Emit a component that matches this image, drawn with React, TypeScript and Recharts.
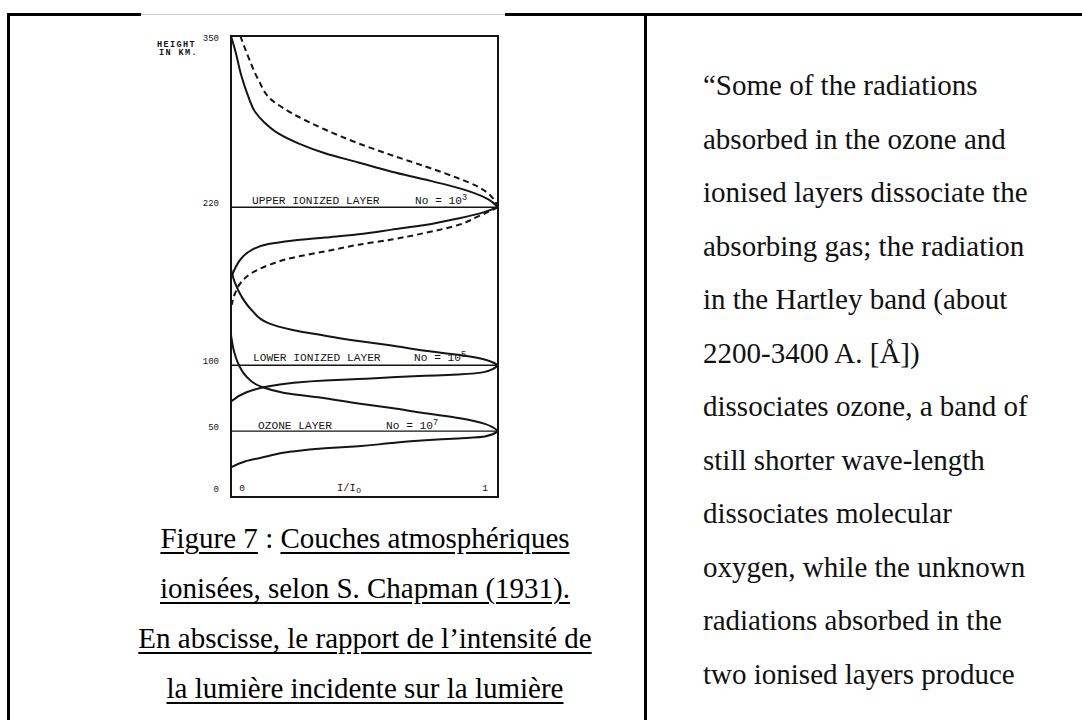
import { LineChart, Line, XAxis, YAxis, ReferenceLine, ReferenceArea } from 'recharts'

type Pt = { h: number; r: number }

// h = height in km, r = I/I0
const upperSolidAbove: Pt[] = [
  { h: 350, r: 0 }, { h: 339.5, r: 0.015 }, { h: 319, r: 0.04 }, { h: 304, r: 0.065 },
  { h: 292.5, r: 0.09 }, { h: 284, r: 0.127 }, { h: 276, r: 0.177 }, { h: 268.5, r: 0.252 },
  { h: 261, r: 0.352 }, { h: 254, r: 0.477 }, { h: 247, r: 0.602 }, { h: 241, r: 0.727 },
  { h: 236, r: 0.826 }, { h: 231.5, r: 0.901 }, { h: 226, r: 0.964 }, { h: 220, r: 1 },
]
const upperDashedAbove: Pt[] = [
  { h: 350, r: 0.035 }, { h: 334, r: 0.065 }, { h: 317, r: 0.102 }, { h: 301.5, r: 0.152 },
  { h: 291.5, r: 0.227 }, { h: 279, r: 0.352 }, { h: 268.5, r: 0.477 }, { h: 259.5, r: 0.602 },
  { h: 251, r: 0.727 }, { h: 242, r: 0.851 }, { h: 235.5, r: 0.926 }, { h: 228, r: 0.976 },
  { h: 220, r: 1 },
]
const upperSolidBelow: Pt[] = [
  { h: 220, r: 1 }, { h: 216.5, r: 0.951 }, { h: 211.5, r: 0.851 }, { h: 206.5, r: 0.727 },
  { h: 203, r: 0.602 }, { h: 199.5, r: 0.477 }, { h: 197, r: 0.352 }, { h: 194.5, r: 0.227 },
  { h: 192, r: 0.14 }, { h: 187.5, r: 0.077 }, { h: 181.5, r: 0.04 }, { h: 173.5, r: 0.015 },
  { h: 166, r: 0 },
]
const upperDashedBelow: Pt[] = [
  { h: 220, r: 1 }, { h: 213, r: 0.926 }, { h: 206.5, r: 0.851 }, { h: 200.5, r: 0.727 },
  { h: 195.5, r: 0.602 }, { h: 191.5, r: 0.477 }, { h: 186.5, r: 0.352 }, { h: 181.5, r: 0.227 },
  { h: 176, r: 0.14 }, { h: 170, r: 0.077 }, { h: 163.5, r: 0.04 }, { h: 154.5, r: 0.015 },
  { h: 146, r: 0.003 },
]
const lowerSolidAbove: Pt[] = [
  { h: 173, r: 0 }, { h: 162.5, r: 0.015 }, { h: 152, r: 0.04 }, { h: 142, r: 0.077 },
  { h: 132, r: 0.14 }, { h: 127, r: 0.227 }, { h: 122.5, r: 0.352 }, { h: 118.5, r: 0.477 },
  { h: 115, r: 0.602 }, { h: 111, r: 0.727 }, { h: 108, r: 0.851 }, { h: 105, r: 0.939 },
  { h: 100, r: 1 },
]
const lowerSolidBelow: Pt[] = [
  { h: 100, r: 1 }, { h: 95, r: 0.951 }, { h: 93, r: 0.851 }, { h: 92, r: 0.727 },
  { h: 91, r: 0.602 }, { h: 89.5, r: 0.477 }, { h: 88.5, r: 0.352 }, { h: 86.5, r: 0.227 },
  { h: 83.5, r: 0.127 }, { h: 79, r: 0.052 }, { h: 72.5, r: 0 },
]
const ozoneSolidAbove: Pt[] = [
  { h: 123, r: 0 }, { h: 110, r: 0.012 }, { h: 100, r: 0.03 }, { h: 91, r: 0.06 },
  { h: 84, r: 0.11 }, { h: 79, r: 0.2 }, { h: 75, r: 0.352 }, { h: 71, r: 0.477 },
  { h: 67.5, r: 0.602 }, { h: 63.5, r: 0.727 }, { h: 60, r: 0.851 }, { h: 55.5, r: 0.951 },
  { h: 50, r: 1 },
]
const ozoneSolidBelow: Pt[] = [
  { h: 50, r: 1 }, { h: 46, r: 0.951 }, { h: 44.5, r: 0.851 }, { h: 43, r: 0.727 },
  { h: 41, r: 0.602 }, { h: 38.5, r: 0.477 }, { h: 37, r: 0.352 }, { h: 34.5, r: 0.227 },
  { h: 30.5, r: 0.127 }, { h: 27, r: 0.052 }, { h: 22.5, r: 0 },
]

const solidCurves = [upperSolidAbove, upperSolidBelow, lowerSolidAbove, lowerSolidBelow, ozoneSolidAbove, ozoneSolidBelow]
const dashedCurves = [upperDashedAbove, upperDashedBelow]

const heightTicks = [0, 50, 100, 220, 350]
const ratioTicks = [0, 1]

const layerHeights = [220, 100, 50]
const layerNames = ['UPPER IONIZED LAYER', 'LOWER IONIZED LAYER', 'OZONE LAYER']
const layerExponents = ['3', '5', '7']

const captionLines = [
  ['Figure 7', ' : ', 'Couches atmosphériques'],
  ['ionisées, selon S. Chapman (1931).'],
  ['En abscisse, le rapport de l’intensité de'],
  ['la lumière incidente sur la lumière'],
]

const quoteLines = [
  '“Some of the radiations',
  'absorbed in the ozone and',
  'ionised layers dissociate the',
  'absorbing gas; the radiation',
  'in the Hartley band (about',
  '2200-3400 A. [Å])',
  'dissociates ozone, a band of',
  'still shorter wave-length',
  'dissociates molecular',
  'oxygen, while the unknown',
  'radiations absorbed in the',
  'two ionised layers produce',
]

const MONO = '"Liberation Mono", "DejaVu Sans Mono", monospace'
const SERIF = '"Liberation Serif", "Times New Roman", serif'
const INK = '#151515'

// label placement per layer line (px offsets from the line's left end)
const labelPlacement = [
  { nameDx: 21, noDx: 184, dy: -3 },
  { nameDx: 22, noDx: 183, dy: -4 },
  { nameDx: 27, noDx: 155, dy: -2 },
]

function HeightTick(props: any) {
  const { x, y, payload } = props
  const v = payload.value
  const dy = v === 350 ? 5 : v === 0 ? -5 : -1
  return (
    <text x={x} y={y + dy} textAnchor="end" fontFamily={MONO} fontSize={9} fill={INK}>
      {v}
    </text>
  )
}

function RatioTick(props: any) {
  const { x, y, payload } = props
  const dx = payload.value === 0 ? 11 : -13
  return (
    <text x={x + dx} y={y - 6} textAnchor="middle" fontFamily={MONO} fontSize={9.5} fill={INK}>
      {payload.value}
    </text>
  )
}

function layerLabel(i: number) {
  return (props: any) => {
    const { x, y } = props.viewBox
    const p = labelPlacement[i]
    return (
      <g fontFamily={MONO} fontSize={11.2} fill={INK}>
        <text x={x + p.nameDx} y={y + p.dy}>{layerNames[i]}</text>
        <text x={x + p.noDx} y={y + p.dy}>
          No = 10<tspan dy={-4} fontSize={8.5}>{layerExponents[i]}</tspan>
        </text>
      </g>
    )
  }
}

function heightLabel(props: any) {
  const { x, y } = props.viewBox
  return (
    <g fontFamily={MONO} fontSize={8.5} fontWeight="bold" fill={INK} letterSpacing={1.4}>
      <text x={x - 34} y={y + 11}>HEIGHT</text>
      <text x={x - 32} y={y + 19}>IN KM.</text>
    </g>
  )
}

function ratioLabel(props: any) {
  const { x, y } = props.viewBox
  return (
    <text x={x + 106} y={y - 6} fontFamily={MONO} fontSize={10.5} fill={INK}>
      I/I<tspan dy={2} fontSize={8.5}>o</tspan>
    </text>
  )
}

function ChapmanChart() {
  return (
    <LineChart width={520} height={520} layout="vertical" margin={{ top: 36, right: 22, bottom: 10, left: 191 }}>
      <XAxis
        type="number"
        dataKey="r"
        domain={[0, 1]}
        ticks={ratioTicks}
        interval={0}
        height={13}
        tickSize={0}
        tickMargin={0}
        axisLine={false}
        tickLine={false}
        tick={<RatioTick />}
        label={{ content: ratioLabel }}
        allowDataOverflow
      />
      <YAxis
        type="number"
        dataKey="h"
        domain={[0, 350]}
        reversed
        ticks={heightTicks}
        interval={0}
        width={40}
        tickSize={0}
        tickMargin={12}
        axisLine={false}
        tickLine={false}
        tick={<HeightTick />}
        label={{ content: heightLabel }}
        allowDataOverflow
      />
      <ReferenceArea x1={0} x2={1} y1={0} y2={350} fill="none" stroke={INK} strokeWidth={2} fillOpacity={0} />
      {layerHeights.map((h, i) => (
        <ReferenceLine key={h} y={h} stroke={INK} strokeWidth={1.4} label={layerLabel(i)} />
      ))}
      {solidCurves.map((d, i) => (
        <Line
          key={'s' + i}
          data={d}
          dataKey="r"
          type="monotone"
          stroke={INK}
          strokeWidth={2}
          dot={false}
          activeDot={false}
          isAnimationActive={false}
        />
      ))}
      {dashedCurves.map((d, i) => (
        <Line
          key={'d' + i}
          data={d}
          dataKey="r"
          type="monotone"
          stroke={INK}
          strokeWidth={2}
          strokeDasharray="6 4"
          dot={false}
          activeDot={false}
          isAnimationActive={false}
        />
      ))}
    </LineChart>
  )
}

export default function App() {
  const bar = (s: React.CSSProperties) => <div style={{ position: 'absolute', background: '#000', ...s }} />
  return (
    <div style={{ position: 'fixed', left: 0, top: 0, width: 1082, height: 720, background: '#fff', overflow: 'hidden' }}>
      {bar({ left: 7, top: 13, width: 134, height: 3 })}
      {bar({ left: 141, top: 14, width: 364, height: 1, background: '#c8c8c8' })}
      {bar({ left: 505, top: 13, width: 577, height: 3 })}
      {bar({ left: 7, top: 13, width: 3, height: 707 })}
      {bar({ left: 644, top: 13, width: 3, height: 707 })}

      <div style={{ position: 'absolute', left: 0, top: 0 }}>
        <ChapmanChart />
      </div>

      <div
        style={{
          position: 'absolute',
          left: 65,
          top: 513,
          width: 600,
          textAlign: 'center',
          fontFamily: SERIF,
          fontSize: 29,
          lineHeight: '50px',
          color: '#000',
        }}
      >
        {captionLines.map((parts, i) => (
          <div key={i} style={{ whiteSpace: 'nowrap' }}>
            {parts.map((t, j) => (
              <span
                key={j}
                style={{
                  textDecoration: t === ' : ' ? 'none' : 'underline',
                  textUnderlineOffset: '4px',
                  textDecorationThickness: '1.5px',
                  whiteSpace: 'pre',
                }}
              >
                {t}
              </span>
            ))}
          </div>
        ))}
      </div>

      <div
        style={{
          position: 'absolute',
          left: 703,
          top: 59,
          fontFamily: SERIF,
          fontSize: 29,
          lineHeight: '53.5px',
          color: '#111',
        }}
      >
        {quoteLines.map((t, i) => (
          <div key={i} style={{ whiteSpace: 'nowrap' }}>{t}</div>
        ))}
      </div>
    </div>
  )
}
